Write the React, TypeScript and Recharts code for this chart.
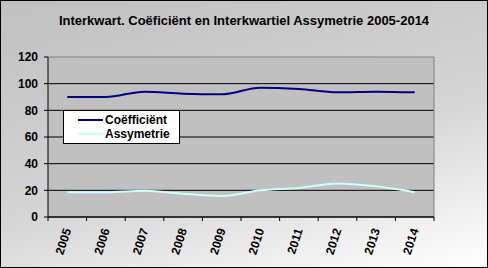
import { LineChart, Line, XAxis, YAxis, CartesianGrid } from "recharts";

const years = ["2005", "2006", "2007", "2008", "2009", "2010", "2011", "2012", "2013", "2014"];
const coefficient = [90, 90, 94, 92.5, 92, 97, 96, 93.5, 94, 93.5];
const asymmetry = [18.6, 18.6, 19.6, 17.5, 15.8, 20, 21.8, 25.2, 23, 18.6];
const yTicks = [0, 20, 40, 60, 80, 100, 120];
const Y_MAX = 120;

const chartData = years.map((year, i) => ({
  year,
  "Coëfficiënt": coefficient[i],
  Assymetrie: asymmetry[i],
}));

const FONT = "'Liberation Sans', Arial, sans-serif";
const PLOT_LEFT = 48;
const PLOT_RIGHT = 434;
const BAND = (PLOT_RIGHT - PLOT_LEFT) / years.length;

function YearTick(props: any) {
  const { x, y, payload, index } = props;
  const left = x - BAND / 2;
  return (
    <g>
      <line x1={left} y1={y - 8} x2={left} y2={y - 4} stroke="#000" />
      {index === years.length - 1 && (
        <line x1={left + BAND} y1={y - 8} x2={left + BAND} y2={y - 4} stroke="#000" />
      )}
      <text
        x={x + 4}
        y={y + 5}
        transform={`rotate(-72, ${x + 4}, ${y + 5})`}
        textAnchor="end"
        fontFamily={FONT}
        fontWeight="bold"
        fontSize={12}
        fill="#000"
      >
        {payload.value}
      </text>
    </g>
  );
}

const legendItems = [
  { label: "Coëfficiënt", color: "#000080" },
  { label: "Assymetrie", color: "#ccffff" },
];

function LegendBox() {
  return (
    <div
      style={{
        position: "absolute",
        left: 62,
        top: 109,
        width: 117,
        height: 34,
        background: "#fff",
        border: "1px solid #000",
        fontFamily: FONT,
        fontWeight: "bold",
        fontSize: 12,
        boxSizing: "border-box",
        paddingTop: 2,
      }}
    >
      {legendItems.map((it) => (
        <div key={it.label} style={{ display: "flex", alignItems: "center", height: 14 }}>
          <div style={{ width: 25, height: 2, background: it.color, marginLeft: 14, marginRight: 2 }} />
          <span>{it.label}</span>
        </div>
      ))}
    </div>
  );
}

// black gridlines for all ticks except the top one (plot border is gray there)
const innerLines = ({ offset }: any) =>
  yTicks.filter((t) => t < Y_MAX).map((t) => offset.top + offset.height * (1 - t / Y_MAX));
const topLine = ({ offset }: any) => [offset.top];
const rightLine = ({ offset }: any) => [offset.left + offset.width];

export default function App() {
  return (
    <div
      style={{
        position: "fixed",
        left: 0,
        top: 0,
        width: 488,
        height: 268,
        boxSizing: "border-box",
        border: "1px solid #000",
        background: "linear-gradient(165deg, #c0c0c0 0%, #d4d4d4 55%, #ffffff 100%)",
      }}
    >
      <div
        style={{
          position: "absolute",
          top: 12,
          left: 0,
          width: 486,
          textAlign: "center",
          fontFamily: FONT,
          fontWeight: "bold",
          fontSize: 13,
        }}
      >
        Interkwart. Coëficiënt en Interkwartiel Assymetrie 2005-2014
      </div>
      <div style={{ position: "absolute", left: -1, top: -1 }}>
        <LineChart width={488} height={268} data={chartData} margin={{ top: 57, right: 54, bottom: 0, left: 0 }}>
          <CartesianGrid
            vertical={false}
            stroke="#000"
            fill="#c0c0c0"
            fillOpacity={1}
            horizontalCoordinatesGenerator={innerLines}
          />
          <CartesianGrid
            stroke="#808080"
            horizontalCoordinatesGenerator={topLine}
            verticalCoordinatesGenerator={rightLine}
          />
          <XAxis
            dataKey="year"
            height={51}
            padding={{ left: BAND / 2, right: BAND / 2 }}
            axisLine={{ stroke: "#000" }}
            tickLine={false}
            tick={<YearTick />}
            interval={0}
          />
          <YAxis
            width={48}
            domain={[0, Y_MAX]}
            ticks={yTicks}
            axisLine={{ stroke: "#000" }}
            tickLine={{ stroke: "#000" }}
            tickSize={4}
            tickMargin={6}
            tick={{ fill: "#000", fontFamily: FONT, fontWeight: "bold", fontSize: 12 }}
          />
          <Line
            type="monotone"
            dataKey="Coëfficiënt"
            stroke="#000080"
            strokeWidth={2}
            dot={false}
            isAnimationActive={false}
          />
          <Line
            type="monotone"
            dataKey="Assymetrie"
            stroke="#ccffff"
            strokeWidth={2}
            dot={false}
            isAnimationActive={false}
          />
        </LineChart>
      </div>
      <LegendBox />
    </div>
  );
}
